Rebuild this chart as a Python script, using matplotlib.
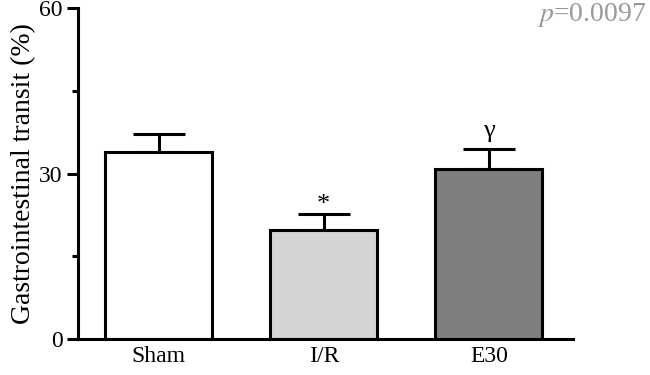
import matplotlib.pyplot as plt

groups = ["Sham", "I/R", "E30"]
means = [33.9, 19.8, 30.8]
errors = [3.2, 2.9, 3.7]
colors = ["#ffffff", "#d4d4d4", "#7f7f7f"]
marks = ["", "*", "\u03b3"]

plt.rcParams['font.family'] = ['Liberation Serif', 'DejaVu Serif']

fig = plt.figure(figsize=(6.5, 3.75), dpi=100)
ax = fig.add_axes([0.12, 0.096, 0.7615, 0.882])

x = range(len(groups))
ax.bar(x, means, width=0.65, color=colors, edgecolor='black', linewidth=2.2, zorder=2)
ax.errorbar(x, means, yerr=[[0] * 3, errors], fmt='none', ecolor='black',
            elinewidth=2.2, capsize=19, capthick=2.2, zorder=1)
# significance marks; the asterisk glyph sits high in its box
offsets = {"*": -0.3, "\u03b3": 1.2}
for i, m in enumerate(marks):
    if m:
        ax.text(i, means[i] + errors[i] + offsets[m], m, ha='center', va='bottom', fontsize=19)

ax.set_xlim(-0.49, 2.51)
ax.set_ylim(0, 60)
ax.set_yticks([0, 30, 60])
ax.set_yticks([15, 45], minor=True)
ax.set_xticks(list(x))
ax.set_xticklabels(groups, fontsize=17)
ax.tick_params(axis='y', labelsize=17, width=2.2, length=8, direction='out', pad=3)
ax.tick_params(axis='y', which='minor', width=2.2, length=4.3)
ax.tick_params(axis='x', length=0, pad=5)
ax.set_ylabel("Gastrointestinal transit (%)", fontsize=20, labelpad=2)
for s in ['top', 'right']:
    ax.spines[s].set_visible(False)
for s in ['left', 'bottom']:
    ax.spines[s].set_linewidth(2.2)

fig.text(0.995, 0.96, "$p$=0.0097", color='#999999', fontsize=20, ha='right', va='center',
         math_fontfamily='stix')

fig.savefig("out.png", dpi=100)
